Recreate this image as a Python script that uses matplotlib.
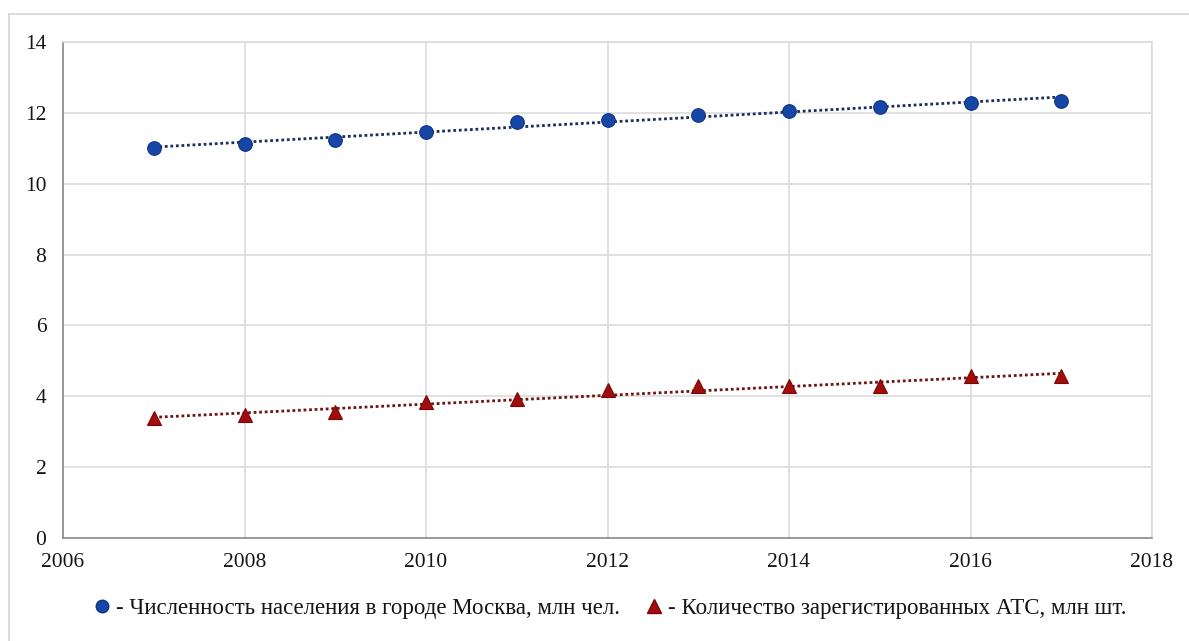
import numpy as np
import matplotlib
matplotlib.use("Agg")
import matplotlib.pyplot as plt
from matplotlib.lines import Line2D

plt.rcParams['font.family'] = ['Liberation Serif', 'DejaVu Serif']

# Data: Moscow population and registered vehicles (millions)
years = [2007, 2008, 2009, 2010, 2011, 2012, 2013, 2014, 2015, 2016, 2017]
population = [11.00, 11.12, 11.24, 11.46, 11.73, 11.81, 11.93, 12.06, 12.17, 12.29, 12.34]
vehicles = [3.39, 3.48, 3.55, 3.83, 3.91, 4.17, 4.28, 4.28, 4.28, 4.57, 4.56]

x_ticks = [2006, 2008, 2010, 2012, 2014, 2016, 2018]
y_ticks = [0, 2, 4, 6, 8, 10, 12, 14]

label_pop = "- Численность населения в городе Москва, млн чел."
label_veh = "- Количество зарегистированных АТС, млн шт."

blue_face = "#1646a6"
blue_edge = "#0e3286"
blue_trend = "#1a2f5c"
red_face = "#a10d0d"
red_edge = "#7a0606"
red_trend = "#6e1515"
text_col = "#151515"

W, H, DPI = 1189, 641, 100
fig = plt.figure(figsize=(W / DPI, H / DPI), dpi=DPI)
ax = fig.add_axes([63 / W, 1 - 538 / H, (1152 - 63) / W, (538 - 42) / H])

# Outer chart-area border
fig.add_artist(Line2D([9 / W, 9 / W], [0, 1 - 14 / H], transform=fig.transFigure,
                      color="#d9d9d9", lw=1.3))
fig.add_artist(Line2D([9 / W, 1], [1 - 14 / H, 1 - 14 / H], transform=fig.transFigure,
                      color="#d9d9d9", lw=1.3))

ax.set_xlim(x_ticks[0], x_ticks[-1])
ax.set_ylim(y_ticks[0], y_ticks[-1])
ax.set_xticks(x_ticks)
ax.set_yticks(y_ticks)
ax.grid(True, color="#d9d9d9", lw=1.1, zorder=0)
ax.set_axisbelow(True)

for side in ("top", "right"):
    ax.spines[side].set_color("#d9d9d9")
    ax.spines[side].set_linewidth(1.1)
for side in ("left", "bottom"):
    ax.spines[side].set_color("#8a8a8a")
    ax.spines[side].set_linewidth(1.2)

ax.tick_params(length=0, labelsize=15.5, colors=text_col)
ax.tick_params(axis="y", pad=12)
ax.tick_params(axis="x", pad=11)

yrs = np.array(years, dtype=float)
xs = np.array([yrs[0], yrs[-1]])

# Linear trend lines
for vals, col in ((population, blue_trend), (vehicles, red_trend)):
    k, b = np.polyfit(yrs, np.array(vals), 1)
    ax.plot(xs, k * xs + b, color=col, lw=2.0, linestyle=(0, (1, 1)),
            dash_capstyle="butt", zorder=2)

ax.plot(years, population, linestyle="none", marker="o", markersize=9.8,
        markerfacecolor=blue_face, markeredgecolor=blue_edge, markeredgewidth=0.8, zorder=3)
ax.plot(years, vehicles, linestyle="none", marker="^", markersize=10.5,
        markerfacecolor=red_face, markeredgecolor=red_edge, markeredgewidth=0.8, zorder=3)

handles = [
    Line2D([], [], linestyle="none", marker="o", markersize=9,
           markerfacecolor=blue_face, markeredgecolor=blue_edge),
    Line2D([], [], linestyle="none", marker="^", markersize=9.5,
           markerfacecolor=red_face, markeredgecolor=red_edge),
]
fig.legend(handles, [label_pop, label_veh], loc="center", ncol=2,
           bbox_to_anchor=(611 / W, 1 - 608 / H), frameon=False,
           fontsize=16.5, handlelength=0.6, handletextpad=0.3,
           columnspacing=1.2, labelcolor=text_col)

fig.savefig("out.png", dpi=DPI)
